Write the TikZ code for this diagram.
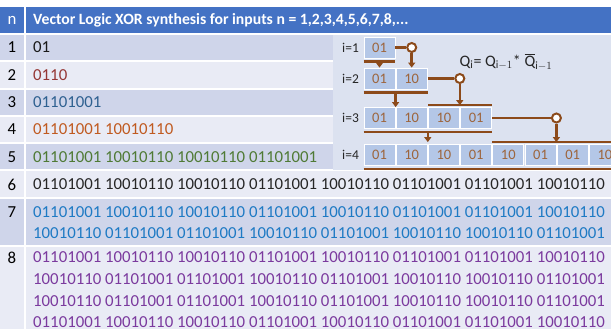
\documentclass[tikz,border=0pt]{standalone}
\usepackage{fontspec}
\setmainfont{Carlito}
\usepackage{tikz}
\usetikzlibrary{arrows.meta,calc}
\definecolor{hdr}{HTML}{4472C4}
\definecolor{rowA}{HTML}{CFD5EA}
\definecolor{rowB}{HTML}{E9EBF5}
\definecolor{panel}{HTML}{DCE2F0}
\definecolor{cell}{HTML}{B4C7E7}
\definecolor{brn}{HTML}{8C4A1A}
\definecolor{cRed}{HTML}{953735}
\definecolor{cSteel}{HTML}{2E6090}
\definecolor{cOrange}{HTML}{C05A20}
\definecolor{cGreen}{HTML}{4F7A35}
\definecolor{cBlue}{HTML}{1E7AC4}
\definecolor{cPurple}{HTML}{7B3A9E}
\newcommand{\BitsA}{01101001}
\newcommand{\BitsB}{10010110}
\newcommand{\LineA}{\BitsA\ \BitsB\ \BitsB\ \BitsA\ \BitsB\ \BitsA\ \BitsA\ \BitsB}
\newcommand{\LineB}{\BitsB\ \BitsA\ \BitsA\ \BitsB\ \BitsA\ \BitsB\ \BitsB\ \BitsA}
\tikzset{
  bits/.style={anchor=west, inner sep=0pt, font=\fontsize{16.8}{20}\selectfont},
  nlab/.style={inner sep=0pt, font=\fontsize{16.8}{20}\selectfont},
  cellbox/.style={draw=white, line width=0.8pt, fill=cell, minimum width=31pt, minimum height=21pt, inner sep=0pt, text=brn!85, font=\fontsize{14.5}{16}\selectfont},
  ilab/.style={anchor=west, inner sep=0pt, text=black!85, font=\fontsize{13.5}{15}\selectfont},
  wire/.style={brn, line width=2.6pt},
  feed/.style={wire, -{Triangle[width=7pt,length=5pt]}},
  knot/.style={circle, draw=brn, line width=2pt, fill=white, minimum size=9pt, inner sep=0pt},
}
\begin{document}
\begin{tikzpicture}[x=1pt,y=-1pt]
\clip (0,0) rectangle (611,329);
\fill[white] (0,0) rectangle (611,329);
% table
\fill[hdr] (0,7) rectangle (611,33);
\foreach \t/\b/\c in {35/60/rowA,62/88/rowB,90/115/rowA,117/142/rowB,144/169/rowA,171/197/rowB,199/245/rowA,247/329/rowB}{
  \fill[\c] (0,\t) rectangle (611,\b);
}
\fill[white] (24,7) rectangle (26,329);
\node[nlab, text=white] (nh) at (12,20.5) {n};
\node[bits, text=white, font=\fontsize{15.7}{18}\selectfont\bfseries] (head) at (33,20.5) {Vector Logic XOR synthesis for inputs n = 1,2,3,4,5,6,7,8,...};
\foreach \n/\y in {1/47.5,2/75,3/102,4/129.5,5/157,6/184.5,7/212,8/257.5}{
  \node[nlab] (n\n) at (12,\y) {\n};
}
\node[bits, text=black!90] (r1) at (33,47.5) {01};
\node[bits, text=cRed] (r2) at (33,75) {0110};
\node[bits, text=cSteel] (r3) at (33,102) {\BitsA};
\node[bits, text=cOrange] (r4) at (33,129.5) {\BitsA\ \BitsB};
\node[bits, text=cGreen] (r5) at (33,157) {\BitsA\ \BitsB\ \BitsB\ \BitsA};
\node[bits, text=black!85] (r6) at (33,184.5) {\LineA};
\node[bits, text=cBlue] (r7a) at (33,212) {\LineA};
\node[bits, text=cBlue] (r7b) at (33,233.5) {\LineB};
\node[bits, text=cPurple] (r8a) at (33,257.5) {\LineA};
\node[bits, text=cPurple] (r8b) at (33,279.3) {\LineB};
\node[bits, text=cPurple] (r8c) at (33,301) {\LineB};
\node[bits, text=cPurple] (r8d) at (33,322.3) {\LineA};
% synthesis scheme
\fill[panel] (333,35) rectangle (611,170);
\foreach \i/\y in {1/47.5,2/78.5,3/118,4/155}{
  \node[ilab] (i\i) at (342,\y) {i=\i};
}
\foreach \k/\t in {1/01}{
  \node[cellbox] (q1-\k) at ({379.5+32.2*(\k-1)},47.5) {\t};
}
\foreach \k/\t in {1/01,2/10}{
  \node[cellbox] (q2-\k) at ({379.5+32.2*(\k-1)},78.5) {\t};
}
\foreach \k/\t in {1/01,2/10,3/10,4/01}{
  \node[cellbox] (q3-\k) at ({379.5+32.2*(\k-1)},118) {\t};
}
\foreach \k/\t in {1/01,2/10,3/10,4/01,5/10,6/01,7/01,8/10}{
  \node[cellbox] (q4-\k) at ({379.5+32.2*(\k-1)},155) {\t};
}
\node[inner sep=0pt, text=black!85, font=\fontsize{16}{18}\selectfont] (eq) at (506,62)
  {Q$_\mathrm{i}$= Q$_{\mathrm{i}-1}$* $\overline{\mbox{Q}}_{\mathrm{i}-1}$};
% underlines and top lines
\draw[wire] ([yshift=-3pt]q1-1.south west) -- ([yshift=-3pt]q1-1.south east);
\draw[wire] ([yshift=-3pt]q2-1.south west) -- ([yshift=-3pt]q2-2.south east);
\draw[wire] ([yshift=-3pt]q3-1.south west) -- ([yshift=-3pt]q3-4.south east);
\draw[wire] ([yshift=-3pt]q4-1.south west) -- ([yshift=-3pt]q4-8.south east);
\draw[wire] ([yshift=2pt]q3-3.north west) -- ([yshift=2pt]q3-4.north east);
\draw[wire] ([yshift=2pt]q4-5.north west) -- ([yshift=2pt]q4-8.north east);
\coordinate (u1) at ([yshift=-3pt]q1-1.south);
\coordinate (u2) at ([yshift=-3pt]$(q2-1.south west)!.5!(q2-2.south east)$);
\coordinate (u3) at ([yshift=-3pt]$(q3-1.south west)!.5!(q3-4.south east)$);
\draw[feed] (u1) -- (u1 |- q2-1.north);
\draw[feed] (u2) -- (u2 |- q3-1.north);
\draw[feed] (u3) -- ([yshift=2pt]u3 |- q4-1.north);
% feedback of the inverted copy
\node[knot] (k1) at (q1-1.east -| q2-2.north) {};
\node[knot] (k2) at (q2-2.east -| q3-3.east) {};
\node[knot] (k3) at (q3-4.east -| q4-6.east) {};
\draw[wire] (q1-1.east) -- (k1);
\draw[wire] (q2-2.east) -- (k2);
\draw[wire] (q3-4.east) -- (k3);
\draw[feed] (k1) -- (k1 |- q2-2.north);
\draw[feed] (k2) -- ([yshift=2pt]k2 |- q3-3.north);
\draw[feed] (k3) -- ([yshift=2pt]k3 |- q4-5.north);
\end{tikzpicture}
\end{document}
